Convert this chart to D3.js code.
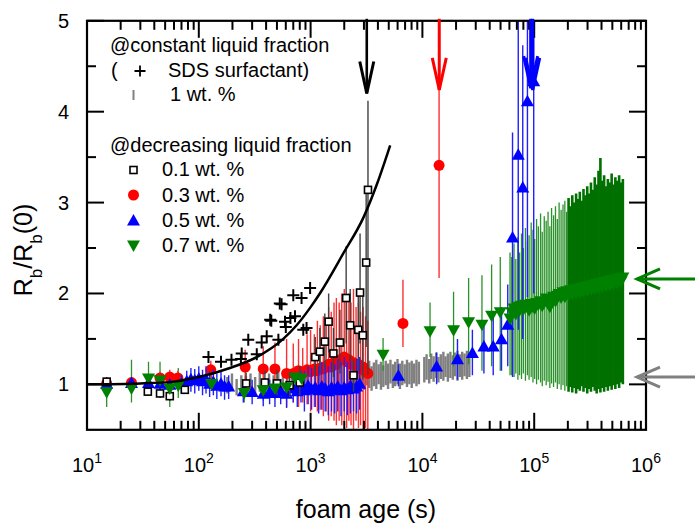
<!DOCTYPE html>
<html>
<head>
<meta charset="utf-8">
<script src="https://cdnjs.cloudflare.com/ajax/libs/d3/7.8.5/d3.min.js"></script>
<style>
body { margin: 0; background: #fff; }
svg { display: block; font-family: "Liberation Sans", Arial, sans-serif; }
</style>
</head>
<body>
<div id="chart"></div>
<script>
// [time (s), Rb/Rb(0)] for the SDS crosses
const sds = [[122,1.30],[158,1.25],[196,1.27],[238,1.28],[242,1.34],[277,1.49],[330,1.33],[365,1.46],[405,1.53],[435,1.71],[445,1.70],[515,1.49],[530,1.89],[550,1.88],[590,1.69],[600,1.63],[660,1.73],[700,1.98],[725,1.75],[830,1.95],[860,1.60],[920,1.62],[990,2.06]];

// black guide line
const curve = [[10,1.0],[30,1.01],[60,1.03],[100,1.08],[190,1.18],[330,1.30],[570,1.50],[750,1.65],[1000,1.85],[1210,2.0],[1960,2.44],[2980,2.84],[3940,3.21],[5150,3.63]];

// [time, value, low, high]
const wt01 = [[15,1.03,0.98,1.08],[35,0.92,0.88,0.97],[45,0.90,0.85,0.95],[55,0.87,0.82,0.93],[75,0.94,0.90,0.99],[265,1.01,0.90,1.13],[390,1.02,0.90,1.15],[500,1.01,0.88,1.16],[650,0.99,0.86,1.13],[800,1.02,0.88,1.2],[1100,1.30,1.08,1.52],[1210,1.36,1.12,1.62],[1340,1.47,1.18,1.78],[1450,1.69,1.35,2.0],[1600,1.34,1.08,1.62],[1830,1.46,1.12,1.82],[2080,1.95,1.45,2.52],[2260,1.65,1.25,2.05],[2420,1.10,0.92,1.28],[2670,1.60,1.15,2.05],[2770,2.01,1.45,2.66],[2930,1.54,1.05,2.05],[3140,2.34,1.41,3.14],[3260,3.14,1.1,4.12]];

const wt03 = [[15,1.01,0.97,1.05],[25,1.02,0.97,1.07],[45,1.07,1.0,1.14],[55,1.08,1.0,1.16],[65,1.07,0.99,1.15],[128,1.16,1.06,1.26],[260,1.19,0.92,1.38],[377,1.17,0.9,1.42],[480,1.17,0.88,1.46],[610,1.12,0.75,1.5],
  [700,1.12,0.8,1.45],[780,1.15,0.75,1.5],[850,1.12,0.8,1.4],[930,1.16,0.78,1.55],[1000,1.14,0.7,1.6],[1080,1.17,0.75,1.55],[1150,1.15,0.7,1.7],[1220,1.18,0.72,1.65],[1300,1.17,0.65,1.75],[1380,1.20,0.7,1.7],[1450,1.22,0.6,1.85],[1530,1.19,0.65,1.8],[1620,1.24,0.6,1.9],[1700,1.22,0.55,1.95],[1800,1.26,0.6,1.9],[1900,1.28,0.55,2.0],[2000,1.30,0.6,2.05],[2100,1.25,0.52,1.95],[2200,1.27,0.6,2.0],[2300,1.22,0.55,1.9],[2420,1.24,0.5,2.05],[2550,1.20,0.6,1.85],[2680,1.22,0.52,1.9],[2800,1.17,0.55,1.8],[2950,1.19,0.5,1.85],[3100,1.14,0.52,1.75],[3250,1.12,0.5,1.7],
  [6700,1.67,1.41,2.15],[14100,3.41,2.17,4.24]];

const wt05 = [[15,1.0,0.96,1.04],[25,1.01,0.96,1.06],[35.5,1.01,0.95,1.07],[45,1.0,0.94,1.06],[55,0.99,0.92,1.06],[70,1.0,0.9,1.1],[78,1.03,0.9,1.15],[85,1.05,0.92,1.18],[92,1.04,0.9,1.17],[100,1.06,0.93,1.2],[108,1.03,0.88,1.16],[116,1.05,0.9,1.2],[125,1.0,0.86,1.14],[135,1.02,0.88,1.16],[145,0.98,0.84,1.12],[158,1.0,0.87,1.14],[170,0.97,0.83,1.1],[185,0.97,0.84,1.1],
  [250,0.92,0.8,1.05],[300,0.91,0.78,1.05],[377,0.89,0.76,1.02],[430,0.91,0.78,1.05],[480,0.90,0.75,1.05],[540,0.92,0.78,1.06],[610,0.89,0.74,1.04],
  [700,0.95,0.8,1.12],[760,0.92,0.75,1.1],[820,0.97,0.8,1.15],[880,0.93,0.7,1.15],[950,0.98,0.78,1.2],[1020,0.94,0.72,1.18],[1100,0.96,0.75,1.2],[1180,0.93,0.68,1.2],[1260,0.97,0.72,1.25],[1350,0.95,0.7,1.22],[1440,0.92,0.66,1.2],[1540,0.96,0.7,1.25],[1640,0.94,0.68,1.22],[1750,0.97,0.7,1.28],[1870,0.93,0.65,1.25],[2000,0.96,0.7,1.3],[2130,0.94,0.66,1.25],[2270,0.98,0.68,1.3],[2420,0.95,0.7,1.25],[2580,0.97,0.68,1.28],[2750,1.0,0.72,1.3],
  [6100,1.09,0.98,1.22],[13400,1.19,1.0,1.35],[20600,1.27,1.05,1.5],[28000,1.34,1.1,1.6],[35500,1.41,1.12,1.7],[43000,1.41,1.1,1.75],[51000,1.49,1.15,1.85],[58000,1.65,1.2,2.1],[64000,2.61,1.08,3.77],[72000,3.52,1.6,5.3],[79000,3.16,1.5,4.73],[87000,4.11,1.96,5.5],[99000,4.33,2.0,5.5]];

const wt07 = [[15,0.92,0.75,1.02],[25,0.96,0.8,1.27],[35.5,1.07,0.95,1.25],[45,1.05,0.9,1.25],[55,0.96,0.75,1.1],[65.5,0.99,0.85,1.18],[130,1.01,0.93,1.1],[255,0.91,0.8,1.0],[377,0.94,0.82,1.04],[480,0.96,0.84,1.06],[610,0.97,0.86,1.08],[725,1.08,0.98,1.2],[830,1.07,0.97,1.2],
  [4450,1.33,1.15,1.51],[11700,1.59,1.3,1.9],[19000,1.60,1.2,2.02],[25900,1.69,1.22,2.17],[34100,1.66,1.15,2.2],[41600,1.76,1.2,2.32],[49700,1.80,1.15,2.4],[60800,1.73,1.1,2.45],
  [63000,1.80,1.10,2.40],[66000,1.84,1.08,2.55],[68500,1.78,1.12,2.38],[71500,1.86,1.05,2.62],[74000,1.82,1.10,2.45],[77000,1.87,1.06,2.66],[80000,1.83,1.12,2.50],[83500,1.88,1.04,2.72],[87000,1.85,1.10,2.58],[90000,1.82,1.05,2.64],
  [94000,1.89,1.08,2.78],[97500,1.86,1.02,2.70],[101000,1.84,1.06,2.60],[105000,1.90,1.00,2.82],[109000,1.88,1.05,2.74],[114000,1.92,1.02,2.88],[118000,1.87,0.98,2.68],[123000,1.91,1.04,2.85],[128000,1.95,0.99,2.80],[133000,1.90,1.03,2.90],
  [138000,1.86,0.96,2.74],[143000,1.93,1.01,2.94],[149000,1.97,0.97,2.86],[155000,1.92,1.02,2.96],[161000,1.98,0.95,2.82],[167000,2.00,1.00,3.00],[174000,1.96,0.94,2.92],[181000,2.02,0.99,2.98],[188000,1.97,0.93,3.02],[195000,2.03,0.98,2.90],
  [203000,1.99,0.92,3.05],[211000,2.04,0.97,2.96],[219000,2.00,0.91,3.08],[228000,2.05,0.96,3.00],[237000,2.01,0.90,3.10],[246000,2.06,0.95,3.04],[256000,2.02,0.93,3.12],[266000,2.07,0.98,3.02],[276000,2.03,0.92,3.15],[287000,2.08,0.96,3.08],
  [298000,2.04,0.90,3.18],[310000,2.09,0.95,3.10],[322000,2.05,0.92,3.22],[335000,2.10,0.97,3.14],[348000,2.06,0.93,3.28],[362000,2.11,0.90,3.20],[376000,2.07,0.95,3.35],[391000,2.12,0.91,3.49],[406000,2.08,0.96,3.24],[422000,2.13,0.92,3.30],
  [439000,2.09,0.97,3.18],[456000,2.14,0.93,3.26],[474000,2.10,0.98,3.22],[493000,2.15,0.94,3.32],[512000,2.11,0.99,3.20],[532000,2.16,0.95,3.28],[553000,2.12,1.00,3.24],[575000,2.17,0.96,3.30],[598000,2.14,1.02,3.22],[621000,2.18,1.00,3.26]];

// 1 wt.% at constant liquid fraction: [time, low, high]
const wt1 = [[180,0.90,1.08],[198,0.93,1.12],[218,0.88,1.06],[240,0.92,1.10],[264,0.89,1.09],[290,0.94,1.12],[319,0.90,1.08],[351,0.92,1.13],[386,0.88,1.07],[425,0.93,1.12],[467,0.90,1.10],[514,0.94,1.14],[565,0.89,1.09],[622,0.93,1.13],[684,0.91,1.12],[752,0.95,1.15],[828,0.92,1.12],[910,0.96,1.16],[1000,0.93,1.14],[1100,0.97,1.17],[1210,0.94,1.16],[1330,0.98,1.18],[1465,0.95,1.17],[1610,0.99,1.20],[1770,0.96,1.19],[1950,1.00,1.21],[2140,0.97,1.20],[2360,1.00,1.22],
  [2500,0.96,1.20],[2620,0.99,1.24],[2750,0.95,1.21],[2890,0.98,1.25],[3030,0.94,1.22],[3180,0.99,1.23],[3340,0.96,1.26],[3510,0.93,1.20],[3680,0.98,1.24],[3870,0.95,1.27],[4060,1.00,1.22],[4260,0.94,1.25],[4470,0.97,1.21],[4700,0.99,1.26],[4930,0.95,1.23],[5180,1.01,1.27],[5440,0.96,1.22],[5710,0.98,1.25],[5990,1.00,1.28],[6290,0.95,1.23],[6610,0.99,1.26],[6940,1.01,1.22],[7280,0.97,1.27],[7650,1.00,1.24],[8030,0.96,1.26],[8430,1.01,1.23],[8850,0.98,1.27],[9300,1.00,1.25],
  [10400,1.02,1.30],[10900,1.05,1.33],[11500,1.01,1.28],[12000,1.06,1.34],[12600,1.03,1.31],[13300,1.07,1.35],[13900,1.02,1.30],[14600,1.06,1.33],[15400,1.04,1.36],[16100,1.08,1.31],[16900,1.03,1.34],[17800,1.07,1.36],[18700,1.05,1.32],[19600,1.09,1.35],[20600,1.04,1.37],[21600,1.08,1.33],[22700,1.05,1.36],[23800,1.09,1.34],[25000,1.06,1.37],[26300,1.08,1.33]];

// arrows from the top: [time, tip value, colour]
const downArrows = [[3180,4.20,"#000"],[14150,4.24,"#ff0000"],[93000,4.26,"#0000ff"],[97000,4.24,"#0000ff"]];
// arrows from the right: [value, colour]
const sideArrows = [[2.16,"#008000"],[1.08,"#808080"]];

const xMajor = [1e1,1e2,1e3,1e4,1e5,1e6];
const xExp = [1,2,3,4,5,6];
const yMajor = [1,2,3,4,5];
const yMinor = [1.5,2.5,3.5,4.5];

const width = 695, height = 529;
const plotLeft = 87, plotRight = 646, plotTop = 20.8, plotBottom = 429.8;

const x = d3.scaleLog().domain([10, 1e6]).range([plotLeft, plotRight]);
const y = d3.scaleLinear().domain([0.5, 5]).range([plotBottom, plotTop]);

const svg = d3.select("#chart").append("svg")
    .attr("width", width)
    .attr("height", height);

svg.append("clipPath").attr("id", "plotClip")
    .append("rect")
    .attr("x", plotLeft).attr("y", plotTop)
    .attr("width", plotRight - plotLeft).attr("height", plotBottom - plotTop);

const plot = svg.append("g").attr("clip-path", "url(#plotClip)");

const bars = (data, color, w, lo = 2, hi = 3) => plot.append("g")
    .selectAll("line").data(data).join("line")
    .attr("x1", d => x(d[0])).attr("x2", d => x(d[0]))
    .attr("y1", d => y(d[lo])).attr("y2", d => y(d[hi]))
    .attr("stroke", color).attr("stroke-width", w);

const triUp = "M0,-7L6.5,4.5L-6.5,4.5Z";
const triDown = "M0,7L6.5,-4.5L-6.5,-4.5Z";

// gray 1 wt.%
bars(wt1, "#808080", 2.4, 1, 2);
// green bars first, the long late run drawn heavier
bars(wt07, "#008000", 1.4)
    .attr("stroke", d => d[0] >= 200000 ? "#007000" : "#2a922a")
    .attr("stroke-width", d => d[0] >= 200000 ? 2.6 : 1.3);

// red
bars(wt03, "#ff3030", 1.4);
plot.append("g").selectAll("circle").data(wt03).join("circle")
    .attr("cx", d => x(d[0])).attr("cy", d => y(d[1]))
    .attr("r", 5.5).attr("fill", "#ff0000");

// blue
bars(wt05, "#2020ff", 1.4);
plot.append("g").selectAll("path").data(wt05).join("path")
    .attr("transform", d => `translate(${x(d[0])},${y(d[1])})`)
    .attr("d", triUp).attr("fill", "#0000ff");

// 0.1 wt.% squares
bars(wt01, "#404040", 1.4);
plot.append("g").selectAll("rect").data(wt01).join("rect")
    .attr("x", d => x(d[0]) - 3.5).attr("y", d => y(d[1]) - 3.5)
    .attr("width", 7).attr("height", 7)
    .attr("fill", "#fff").attr("stroke", "#000").attr("stroke-width", 1.6);

// green triangles
plot.append("g").selectAll("path").data(wt07).join("path")
    .attr("transform", d => `translate(${x(d[0])},${y(d[1])})`)
    .attr("d", triDown).attr("fill", "#008000");

// SDS crosses
plot.append("g").selectAll("path").data(sds).join("path")
    .attr("transform", d => `translate(${x(d[0])},${y(d[1])})`)
    .attr("d", "M-6,0H6M0,-6V6")
    .attr("stroke", "#000").attr("stroke-width", 2);

// guide curve
plot.append("path").datum(curve)
    .attr("d", d3.line().x(d => x(d[0])).y(d => y(d[1])).curve(d3.curveMonotoneX))
    .attr("fill", "none").attr("stroke", "#000").attr("stroke-width", 2.5);

// frame and ticks
const axes = svg.append("g").attr("font-size", 20).attr("fill", "#000");

const xMinor = [];
[1e1,1e2,1e3,1e4,1e5].forEach(p => { for (let k = 2; k <= 9; k++) xMinor.push(k * p); });

const tickLines = (vals, len, horiz) => {
    vals.forEach(v => {
        if (horiz) {
            const px = x(v);
            axes.append("line").attr("x1", px).attr("x2", px).attr("y1", plotBottom).attr("y2", plotBottom - len)
                .attr("stroke", "#000").attr("stroke-width", 2);
            axes.append("line").attr("x1", px).attr("x2", px).attr("y1", plotTop).attr("y2", plotTop + len)
                .attr("stroke", "#000").attr("stroke-width", 2);
        } else {
            const py = y(v);
            axes.append("line").attr("x1", plotLeft).attr("x2", plotLeft + len).attr("y1", py).attr("y2", py)
                .attr("stroke", "#000").attr("stroke-width", 2);
            axes.append("line").attr("x1", plotRight).attr("x2", plotRight - len).attr("y1", py).attr("y2", py)
                .attr("stroke", "#000").attr("stroke-width", 2);
        }
    });
};
tickLines(xMajor, 17, true);
tickLines(xMinor, 9, true);
tickLines(yMajor, 17, false);
tickLines(yMinor, 9, false);

axes.append("rect")
    .attr("x", plotLeft).attr("y", plotTop)
    .attr("width", plotRight - plotLeft).attr("height", plotBottom - plotTop)
    .attr("fill", "none").attr("stroke", "#000").attr("stroke-width", 2.2);

// tick labels
xMajor.forEach((v, i) => {
    const t = axes.append("text")
        .attr("x", x(v)).attr("y", 472)
        .attr("text-anchor", "middle");
    t.append("tspan").text("10");
    t.append("tspan").attr("font-size", 14).attr("dy", -9).text(xExp[i]);
});
yMajor.forEach(v => {
    axes.append("text")
        .attr("x", 69).attr("y", y(v) + 7)
        .attr("text-anchor", "end")
        .text(v);
});

// axis titles
svg.append("text")
    .attr("x", 366).attr("y", 518)
    .attr("text-anchor", "middle")
    .attr("font-size", 25)
    .text("foam age (s)");

const yl = svg.append("text")
    .attr("transform", "translate(32,250) rotate(-90)")
    .attr("text-anchor", "middle")
    .attr("font-size", 25);
yl.append("tspan").text("R");
yl.append("tspan").attr("font-size", 17).attr("dy", 10).text("b");
yl.append("tspan").attr("dy", -10).text("/R");
yl.append("tspan").attr("font-size", 17).attr("dy", 10).text("b");
yl.append("tspan").attr("dy", -10).text("(0)");

// arrows
downArrows.forEach(([t, v, c]) => {
    const px = x(t), py = y(v);
    svg.append("line").attr("x1", px).attr("x2", px).attr("y1", plotTop - 2).attr("y2", py)
        .attr("stroke", c).attr("stroke-width", c === "#000" ? 2.6 : 3);
    svg.append("path").attr("d", `M${px - 7},${py - 32}L${px},${py}L${px + 7},${py - 32}`)
        .attr("fill", "none").attr("stroke", c).attr("stroke-width", 3);
});
sideArrows.forEach(([v, c]) => {
    const py = y(v), tip = 637;
    svg.append("line").attr("x1", tip).attr("x2", width).attr("y1", py).attr("y2", py)
        .attr("stroke", c).attr("stroke-width", 3);
    svg.append("path").attr("d", `M${tip + 23},${py - 10}L${tip},${py}L${tip + 23},${py + 10}`)
        .attr("fill", "none").attr("stroke", c).attr("stroke-width", 3);
});

// legend
const lg = svg.append("g").attr("font-size", 20);
lg.append("text").attr("x", 110).attr("y", 52).text("@constant liquid fraction");
lg.append("text").attr("x", 111).attr("y", 77).text("(");
lg.append("path").attr("d", "M134.5,71H145.5M140,65.5V76.5").attr("stroke", "#000").attr("stroke-width", 1.8);
lg.append("text").attr("x", 168).attr("y", 77).text("SDS surfactant)");
lg.append("line").attr("x1", 133.5).attr("x2", 133.5).attr("y1", 90).attr("y2", 100)
    .attr("stroke", "#808080").attr("stroke-width", 2);
lg.append("text").attr("x", 170).attr("y", 101).text("1 wt. %");
lg.append("text").attr("x", 110).attr("y", 152).text("@decreasing liquid fraction");

const legendRows = [["0.1 wt. %", 176], ["0.3 wt. %", 202], ["0.5 wt. %", 227], ["0.7 wt. %", 252]];
legendRows.forEach(([label, by]) => lg.append("text").attr("x", 162).attr("y", by).text(label));
lg.append("rect").attr("x", 130).attr("y", 166.5).attr("width", 7).attr("height", 7)
    .attr("fill", "#fff").attr("stroke", "#000").attr("stroke-width", 1.6);
lg.append("circle").attr("cx", 133.5).attr("cy", 195).attr("r", 5.5).attr("fill", "#ff0000");
lg.append("path").attr("transform", "translate(133.5,221)").attr("d", triUp).attr("fill", "#0000ff");
lg.append("path").attr("transform", "translate(133.5,245)").attr("d", triDown).attr("fill", "#008000");
</script>
</body>
</html>
